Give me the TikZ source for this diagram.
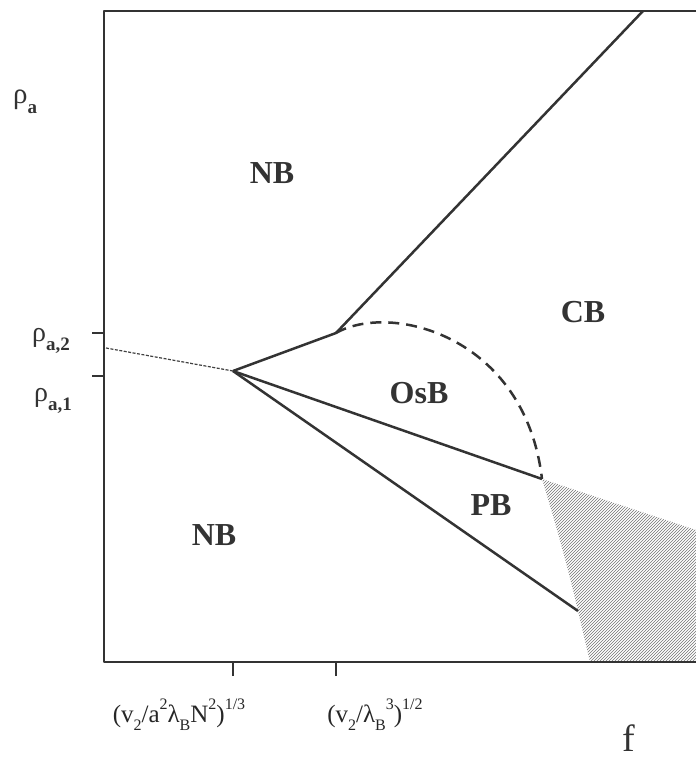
\documentclass[tikz,border=0pt]{standalone}
\usepackage{fontspec}
\setmainfont{Liberation Serif}
\usetikzlibrary{patterns}
\newcommand{\sbx}[1]{\raisebox{-0.32em}{\fontsize{16}{16}\selectfont #1}}
\newcommand{\spx}[1]{\raisebox{0.5em}{\fontsize{16}{16}\selectfont #1}}
\newcommand{\rsub}[1]{\raisebox{-0.35em}{\fontsize{19}{19}\selectfont\bfseries #1}}
\begin{document}
\begin{tikzpicture}[x=1pt,y=-1pt,line join=round,
  axisline/.style={line width=2.2pt,black!80},
  phaseline/.style={line width=2.5pt,black!80},
  regionlabel/.style={font=\fontsize{32}{32}\selectfont\bfseries,anchor=base,inner sep=0pt,text=black!80},
  axislabel/.style={font=\fontsize{25}{25}\selectfont,anchor=base,inner sep=0pt,text=black!85}]
\useasboundingbox (0,0) rectangle (696,760);
% frame
\coordinate (TL) at (104,11);
\coordinate (TR) at (696,11);
\coordinate (BL) at (104,662);
\coordinate (BR) at (696,662);
% phase points
\coordinate (A) at (233,371);
\coordinate (B) at (336,333);
\coordinate (C) at (542,479);
\coordinate (D) at (578,611);
\coordinate (E) at (643,11);
\coordinate (L) at (106,348);
% shaded region
\fill[pattern=north east lines,pattern color=black!55] (C) .. controls (556,525) and (568,568) .. (D) -- (590,662) -- (696,662) -- (696,530) -- cycle;
% axes
\draw[axisline] (TR) -- (TL) -- (BL) -- (BR);
\coordinate (Y2) at (92,333); \coordinate (Y2a) at (104,333);
\coordinate (Y1) at (92,376); \coordinate (Y1a) at (104,376);
\coordinate (X1) at (233,676); \coordinate (X1a) at (233,662);
\coordinate (X2) at (336,676); \coordinate (X2a) at (336,662);
\draw[axisline] (Y2) -- (Y2a);
\draw[axisline] (Y1) -- (Y1a);
\draw[line width=1.6pt,black!80] (X1) -- (X1a);
\draw[line width=1.6pt,black!80] (X2) -- (X2a);
% phase boundaries
\draw[line width=1.2pt,black!75,dash pattern=on 3pt off 1.5pt] (L) -- (A);
\draw[phaseline] (A) -- (B) -- (E);
\draw[phaseline] (A) -- (C);
\draw[phaseline] (A) -- (D);
\draw[phaseline,dash pattern=on 11pt off 7pt] (B) .. controls (390,302) and (525,335) .. (C);
% region labels
\node[regionlabel] (nb1) at (272,183) {NB};
\node[regionlabel] (cb) at (583,322) {CB};
\node[regionlabel] (osb) at (419,403) {OsB};
\node[regionlabel] (pb) at (491,515) {PB};
\node[regionlabel] (nb2) at (214,545) {NB};
% axis labels
\node[anchor=base west,inner sep=0pt,text=black!80,font=\fontsize{29}{29}\selectfont] (rho) at (13,103) {ρ\rsub{a}};
\node[anchor=base west,inner sep=0pt,text=black!80,font=\fontsize{28}{28}\selectfont] (rho2) at (32,341) {ρ\rsub{a,2}};
\node[anchor=base west,inner sep=0pt,text=black!80,font=\fontsize{28}{28}\selectfont] (rho1) at (34,401) {ρ\rsub{a,1}};
\node[axislabel] (xl1) at (179,722) {(v\sbx{2}/a\spx{2}λ\sbx{B}N\spx{2})\spx{1/3}};
\node[axislabel] (xl2) at (375,722) {(v\sbx{2}/λ\sbx{B}\spx{3})\spx{1/2}};
\node[anchor=base,inner sep=0pt,text=black!80,font=\fontsize{38}{38}\selectfont] (f) at (629,751) {f};
\end{tikzpicture}
\end{document}
